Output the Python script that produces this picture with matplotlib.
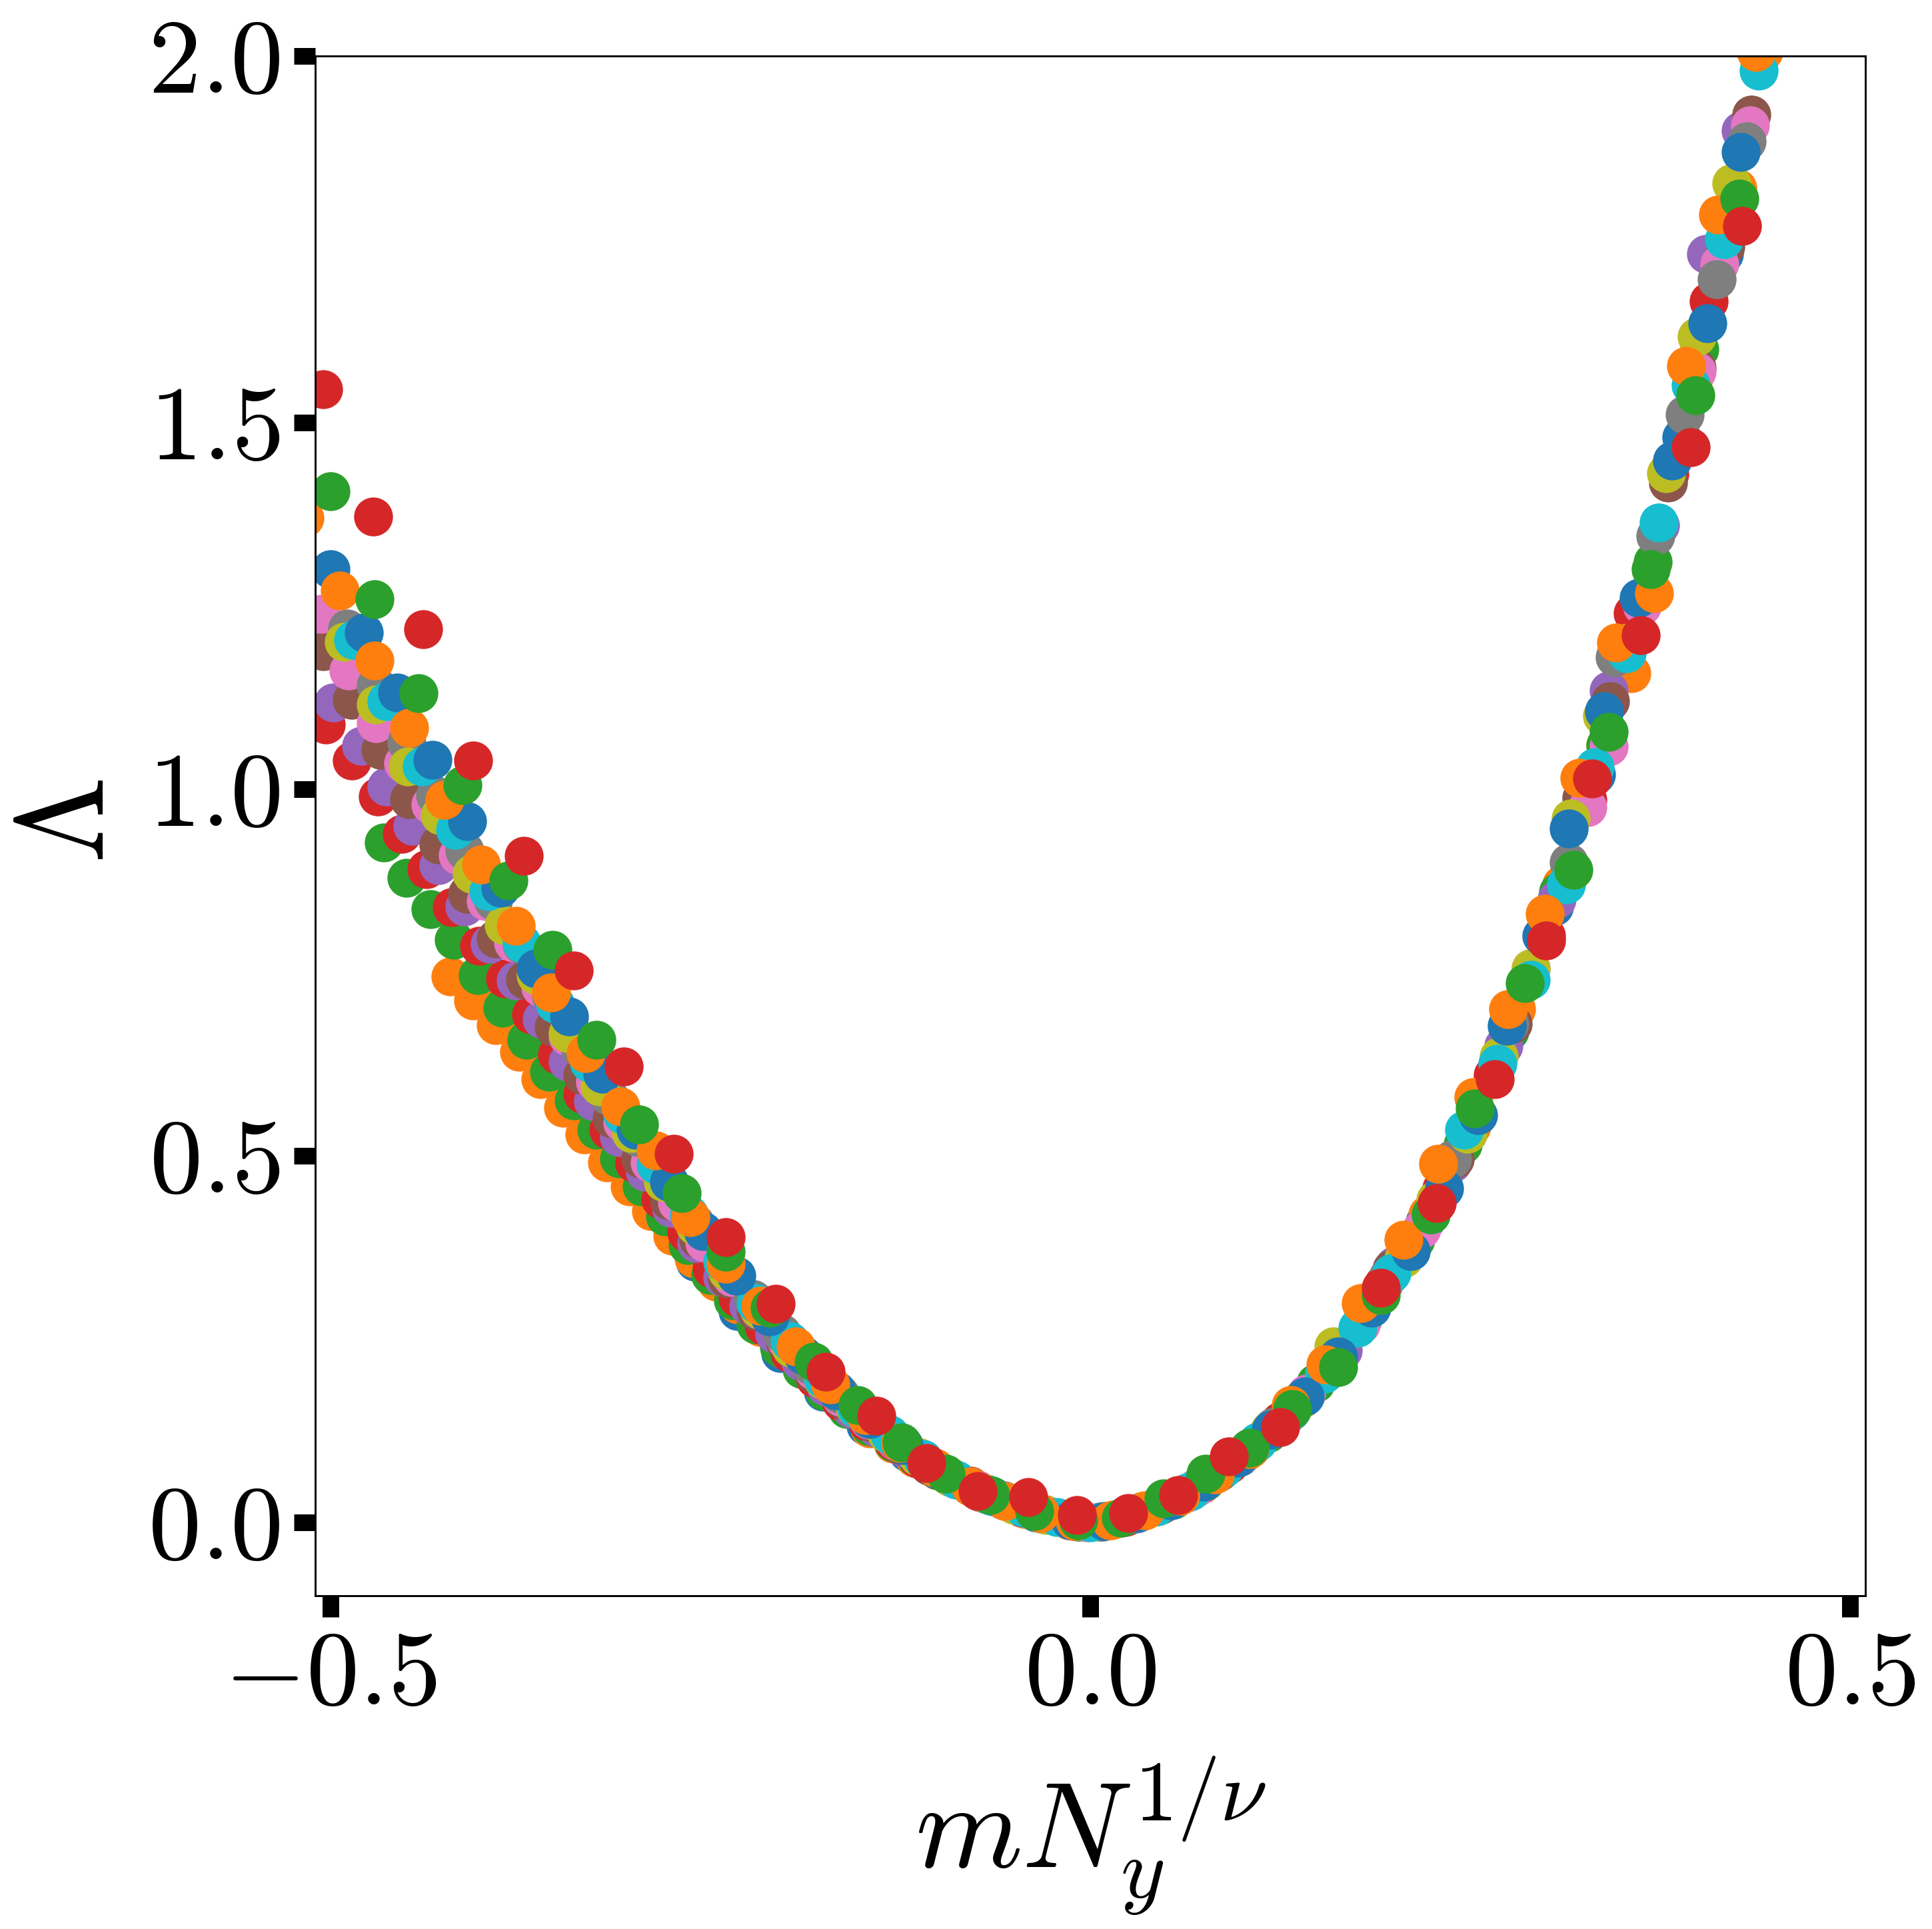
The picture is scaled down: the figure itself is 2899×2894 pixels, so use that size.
import matplotlib
matplotlib.use("Agg")
import matplotlib.pyplot as plt

plt.rcParams['font.family'] = 'serif'
plt.rcParams['font.serif'] = ['cmr10']
plt.rcParams['mathtext.fontset'] = 'cm'
plt.rcParams['axes.formatter.use_mathtext'] = True
plt.rcParams['axes.unicode_minus'] = True

# data collapse, one list pair per system size (colours follow the default cycle)
x_blue1 = [-0.400, -0.372, -0.344, -0.316, -0.288, -0.260, -0.232, -0.204, -0.176, -0.148,
           -0.120, -0.092, -0.064, -0.036, -0.008, 0.020, 0.048, 0.076, 0.104, 0.132,
           0.160, 0.188, 0.220, 0.248, 0.276, 0.305, 0.333, 0.361, 0.389, 0.417]
y_blue1 = [0.716, 0.646, 0.568, 0.495, 0.426, 0.355, 0.288, 0.231, 0.178, 0.132,
           0.095, 0.062, 0.035, 0.014, 0.001, 0.006, 0.026, 0.056, 0.100, 0.153,
           0.218, 0.305, 0.41, 0.53, 0.67, 0.84, 1.02, 1.25, 1.48, 1.73]

x_orange1 = [-0.421, -0.406, -0.391, -0.376, -0.362, -0.347, -0.333, -0.318, -0.303, -0.289,
             -0.275, -0.261, -0.246, -0.232, -0.217, -0.203, -0.188, -0.174, -0.159, -0.145,
             -0.130, -0.116, -0.101, -0.072, -0.043, -0.014, 0.015, 0.044, 0.073, 0.102,
             0.131, 0.160, 0.189, 0.222, 0.251, 0.280, 0.310, 0.339, 0.356, 0.397, 0.426, 0.443]
y_orange1 = [0.744, 0.712, 0.678, 0.642, 0.604, 0.565, 0.529, 0.491, 0.458, 0.424,
             0.391, 0.360, 0.328, 0.297, 0.266, 0.237, 0.208, 0.182, 0.155, 0.128,
             0.107, 0.088, 0.071, 0.041, 0.018, 0.003, 0.004, 0.022, 0.052, 0.096,
             0.150, 0.218, 0.31, 0.42, 0.54, 0.70, 0.87, 1.06, 1.158, 1.56, 1.82, 2.005]

x_green1 = [-0.465, -0.450, -0.434, -0.419, -0.403, -0.387, -0.371, -0.356, -0.340, -0.325,
            -0.310, -0.295, -0.280, -0.265, -0.250, -0.235, -0.220, -0.205, -0.190, -0.175,
            -0.160, -0.145, -0.130, -0.115, -0.100, -0.069, -0.038, -0.007, 0.024, 0.055,
            0.086, 0.117, 0.148, 0.179, 0.214, 0.245, 0.276, 0.308, 0.339, 0.370, 0.401, 0.423]
y_green1 = [0.927, 0.879, 0.836, 0.794, 0.746, 0.702, 0.658, 0.614, 0.575, 0.535,
            0.496, 0.458, 0.417, 0.378, 0.337, 0.303, 0.270, 0.239, 0.209, 0.179,
            0.154, 0.131, 0.109, 0.089, 0.071, 0.039, 0.016, 0.001, 0.008, 0.031,
            0.071, 0.122, 0.19, 0.275, 0.385, 0.515, 0.67, 0.86, 1.06, 1.31, 1.60, 1.77]

x_red1 = [-0.503, -0.486, -0.469, -0.453, -0.437, -0.420, -0.402, -0.385, -0.368, -0.351,
          -0.334, -0.317, -0.300, -0.283, -0.266, -0.249, -0.232, -0.215, -0.198, -0.181,
          -0.164, -0.147, -0.130, -0.113, -0.079, -0.045, -0.011, 0.023, 0.057, 0.091,
          0.125, 0.159, 0.193, 0.231, 0.265, 0.300, 0.327, 0.357, 0.381, 0.407]
y_red1 = [1.088, 1.039, 0.990, 0.939, 0.891, 0.839, 0.786, 0.742, 0.693, 0.638,
          0.584, 0.535, 0.490, 0.441, 0.395, 0.346, 0.306, 0.268, 0.231, 0.196,
          0.164, 0.137, 0.111, 0.086, 0.050, 0.020, 0.002, 0.007, 0.034, 0.079,
          0.138, 0.215, 0.325, 0.455, 0.61, 0.80, 0.985, 1.24, 1.43, 1.665]

x_purple = [-0.498, -0.480, -0.463, -0.446, -0.429, -0.412, -0.395, -0.378, -0.361, -0.344,
            -0.327, -0.310, -0.293, -0.276, -0.259, -0.242, -0.225, -0.208, -0.191, -0.174,
            -0.157, -0.140, -0.123, -0.106, -0.072, -0.038, -0.004, 0.030, 0.064, 0.098,
            0.132, 0.166, 0.200, 0.238, 0.272, 0.307, 0.341, 0.375, 0.405, 0.428]
y_purple = [1.118, 1.059, 1.003, 0.950, 0.896, 0.840, 0.789, 0.739, 0.686, 0.628,
            0.574, 0.525, 0.478, 0.429, 0.381, 0.334, 0.295, 0.257, 0.220, 0.185,
            0.154, 0.128, 0.102, 0.077, 0.041, 0.016, 0.001, 0.012, 0.041, 0.089,
            0.152, 0.234, 0.35, 0.49, 0.65, 0.85, 1.134, 1.36, 1.73, 1.898]

x_brown = [-0.505, -0.486, -0.467, -0.448, -0.429, -0.410, -0.391, -0.372, -0.353, -0.334,
           -0.315, -0.296, -0.277, -0.258, -0.239, -0.220, -0.201, -0.182, -0.163, -0.144,
           -0.125, -0.106, -0.068, -0.030, 0.008, 0.046, 0.084, 0.122, 0.160, 0.198,
           0.240, 0.278, 0.323, 0.342, 0.380, 0.399, 0.418, 0.435]
y_brown = [1.188, 1.122, 1.053, 0.986, 0.924, 0.857, 0.796, 0.740, 0.675, 0.610,
           0.551, 0.496, 0.439, 0.386, 0.333, 0.288, 0.246, 0.203, 0.167, 0.136,
           0.105, 0.077, 0.038, 0.011, 0.001, 0.024, 0.068, 0.132, 0.22, 0.345,
           0.495, 0.68, 0.988, 1.12, 1.418, 1.574, 1.74, 1.92]

x_pink = [-0.506, -0.488, -0.470, -0.452, -0.434, -0.416, -0.398, -0.380, -0.362, -0.344,
          -0.326, -0.308, -0.290, -0.272, -0.254, -0.236, -0.218, -0.200, -0.182, -0.164,
          -0.146, -0.128, -0.110, -0.074, -0.038, -0.002, 0.034, 0.070, 0.106, 0.142,
          0.178, 0.218, 0.254, 0.290, 0.327, 0.341, 0.363, 0.399, 0.414, 0.434]
y_pink = [1.239, 1.162, 1.090, 1.035, 0.979, 0.910, 0.847, 0.791, 0.730, 0.663,
          0.601, 0.545, 0.491, 0.436, 0.382, 0.334, 0.290, 0.248, 0.207, 0.171,
          0.140, 0.111, 0.086, 0.044, 0.016, 0.000, 0.015, 0.048, 0.103, 0.175,
          0.27, 0.40, 0.555, 0.755, 0.975, 1.058, 1.25, 1.57, 1.716, 1.905]

x_gray = [-0.489, -0.470, -0.450, -0.431, -0.412, -0.393, -0.374, -0.355, -0.336, -0.317,
          -0.298, -0.279, -0.260, -0.241, -0.222, -0.203, -0.184, -0.165, -0.146, -0.127,
          -0.108, -0.070, -0.032, 0.006, 0.044, 0.082, 0.120, 0.158, 0.196, 0.238,
          0.276, 0.315, 0.345, 0.372, 0.391, 0.412, 0.432]
y_gray = [1.219, 1.142, 1.063, 0.992, 0.916, 0.848, 0.788, 0.718, 0.647, 0.582,
          0.525, 0.464, 0.408, 0.352, 0.304, 0.258, 0.214, 0.175, 0.142, 0.111,
          0.081, 0.040, 0.012, 0.001, 0.022, 0.066, 0.13, 0.215, 0.335, 0.495,
          0.68, 0.90, 1.18, 1.345, 1.511, 1.695, 1.883]

x_olive = [-0.491, -0.470, -0.449, -0.428, -0.407, -0.386, -0.365, -0.344, -0.323, -0.302,
           -0.281, -0.260, -0.239, -0.218, -0.197, -0.176, -0.155, -0.134, -0.113, -0.092,
           -0.071, -0.050, -0.029, -0.008, 0.013, 0.034, 0.055, 0.076, 0.097, 0.118,
           0.139, 0.160, 0.181, 0.206, 0.227, 0.248, 0.269, 0.290, 0.316, 0.337,
           0.354, 0.379, 0.399, 0.422]
y_olive = [1.201, 1.115, 1.031, 0.964, 0.884, 0.814, 0.746, 0.667, 0.594, 0.531,
           0.464, 0.404, 0.343, 0.291, 0.238, 0.194, 0.156, 0.122, 0.089, 0.062,
           0.041, 0.024, 0.010, 0.002, 0.003, 0.015, 0.032, 0.056, 0.088, 0.125,
           0.168, 0.24, 0.30, 0.36, 0.44, 0.53, 0.635, 0.755, 0.96, 1.10,
           1.20, 1.431, 1.617, 1.826]

x_cyan = [-0.485, -0.463, -0.440, -0.418, -0.396, -0.374, -0.352, -0.330, -0.308, -0.286,
          -0.264, -0.242, -0.220, -0.198, -0.176, -0.154, -0.132, -0.110, -0.088, -0.066,
          -0.044, -0.022, 0.000, 0.022, 0.044, 0.066, 0.088, 0.110, 0.132, 0.154,
          0.176, 0.198, 0.224, 0.246, 0.268, 0.290, 0.313, 0.332, 0.353, 0.374,
          0.395, 0.417, 0.440]
y_cyan = [1.203, 1.120, 1.031, 0.944, 0.861, 0.790, 0.707, 0.627, 0.556, 0.488,
          0.420, 0.355, 0.299, 0.247, 0.196, 0.155, 0.120, 0.086, 0.058, 0.036,
          0.020, 0.007, 0.000, 0.008, 0.022, 0.043, 0.074, 0.11, 0.152, 0.203,
          0.265, 0.34, 0.42, 0.535, 0.625, 0.74, 0.87, 1.03, 1.185, 1.363,
          1.551, 1.75, 1.98]

x_blue2 = [-0.500, -0.478, -0.456, -0.433, -0.410, -0.388, -0.365, -0.343, -0.321, -0.299,
           -0.277, -0.255, -0.233, -0.211, -0.189, -0.167, -0.145, -0.123, -0.101, -0.079,
           -0.057, -0.035, -0.013, 0.009, 0.031, 0.053, 0.075, 0.097, 0.119, 0.141,
           0.163, 0.185, 0.211, 0.233, 0.255, 0.274, 0.297, 0.315, 0.338, 0.361,
           0.383, 0.406, 0.428]
y_blue2 = [1.300, 1.213, 1.132, 1.040, 0.956, 0.865, 0.755, 0.690, 0.612, 0.535,
           0.464, 0.397, 0.336, 0.281, 0.228, 0.180, 0.141, 0.105, 0.072, 0.049,
           0.030, 0.014, 0.003, 0.002, 0.013, 0.030, 0.055, 0.088, 0.126, 0.172,
           0.226, 0.293, 0.37, 0.455, 0.555, 0.677, 0.80, 0.946, 1.106, 1.261,
           1.448, 1.635, 1.869]

x_orange2 = [-0.517, -0.494, -0.471, -0.448, -0.425, -0.401, -0.378, -0.355, -0.332, -0.309,
             -0.286, -0.263, -0.240, -0.217, -0.194, -0.171, -0.148, -0.125, -0.102, -0.079,
             -0.056, -0.033, -0.010, 0.013, 0.036, 0.059, 0.082, 0.105, 0.132, 0.155,
             0.178, 0.206, 0.229, 0.252, 0.275, 0.299, 0.322, 0.346, 0.371, 0.392,
             0.413, 0.438]
y_orange2 = [1.37, 1.271, 1.175, 1.083, 0.985, 0.897, 0.813, 0.723, 0.640, 0.567,
             0.507, 0.416, 0.353, 0.295, 0.240, 0.188, 0.146, 0.108, 0.074, 0.049,
             0.029, 0.013, 0.002, 0.003, 0.016, 0.036, 0.065, 0.100, 0.160, 0.215,
             0.299, 0.385, 0.489, 0.58, 0.70, 0.83, 1.015, 1.20, 1.267, 1.577,
             1.783, 2.005]

x_green2 = [-0.500, -0.471, -0.442, -0.413, -0.383, -0.354, -0.325, -0.297, -0.269, -0.240,
            -0.211, -0.182, -0.153, -0.124, -0.095, -0.066, -0.037, -0.008, 0.020, 0.048,
            0.076, 0.105, 0.133, 0.163, 0.191, 0.224, 0.253, 0.286, 0.318, 0.341,
            0.369, 0.398, 0.427]
y_green2 = [1.406, 1.259, 1.131, 1.005, 0.875, 0.781, 0.658, 0.543, 0.449, 0.369,
            0.293, 0.219, 0.160, 0.109, 0.066, 0.037, 0.015, 0.003, 0.006, 0.033,
            0.066, 0.102, 0.154, 0.212, 0.31, 0.42, 0.564, 0.735, 0.89, 1.078,
            1.30, 1.537, 1.805]

x_red2 = [-0.505, -0.472, -0.439, -0.406, -0.373, -0.340, -0.307, -0.274, -0.240, -0.207,
          -0.174, -0.141, -0.108, -0.074, -0.041, -0.009, 0.025, 0.058, 0.091, 0.125,
          0.191, 0.228, 0.266, 0.300, 0.330, 0.362, 0.395, 0.429]
y_red2 = [1.545, 1.372, 1.218, 1.039, 0.909, 0.753, 0.622, 0.503, 0.389, 0.298,
          0.205, 0.145, 0.081, 0.043, 0.034, 0.010, 0.013, 0.037, 0.090, 0.130,
          0.320, 0.435, 0.604, 0.793, 1.014, 1.21, 1.466, 1.768]

series = [(x_blue1, y_blue1), (x_orange1, y_orange1), (x_green1, y_green1),
          (x_red1, y_red1), (x_purple, y_purple), (x_brown, y_brown),
          (x_pink, y_pink), (x_gray, y_gray), (x_olive, y_olive), (x_cyan, y_cyan),
          (x_blue2, y_blue2), (x_orange2, y_orange2), (x_green2, y_green2),
          (x_red2, y_red2)]

fig = plt.figure(figsize=(2899 / 300, 2894 / 300), dpi=300)
ax = fig.add_axes([0.1632, 0.1728, 0.8023, 0.7983])

for xs, ys in series:
    ax.plot(xs, ys, 'o', markersize=13)

ax.set_xlim(-0.51, 0.51)
ax.set_ylim(-0.1, 2.0)
ax.set_xticks([-0.5, 0.0, 0.5])
ax.set_yticks([0.0, 0.5, 1.0, 1.5, 2.0])
ax.tick_params(axis='both', which='major', direction='out', length=7.7, width=6,
               labelsize=38, pad=5, top=False, right=False)
for sp in ax.spines.values():
    sp.set_linewidth(0.7)

ax.set_xlabel(r'$mN_y^{1/\nu}$', fontsize=44)
ax.set_ylabel(r'$\tilde{\Lambda}$', fontsize=45)
ax.xaxis.set_label_coords(0.5, -0.103)
ax.yaxis.set_label_coords(-0.121, 0.503)

fig.savefig('out.png', dpi=300)
